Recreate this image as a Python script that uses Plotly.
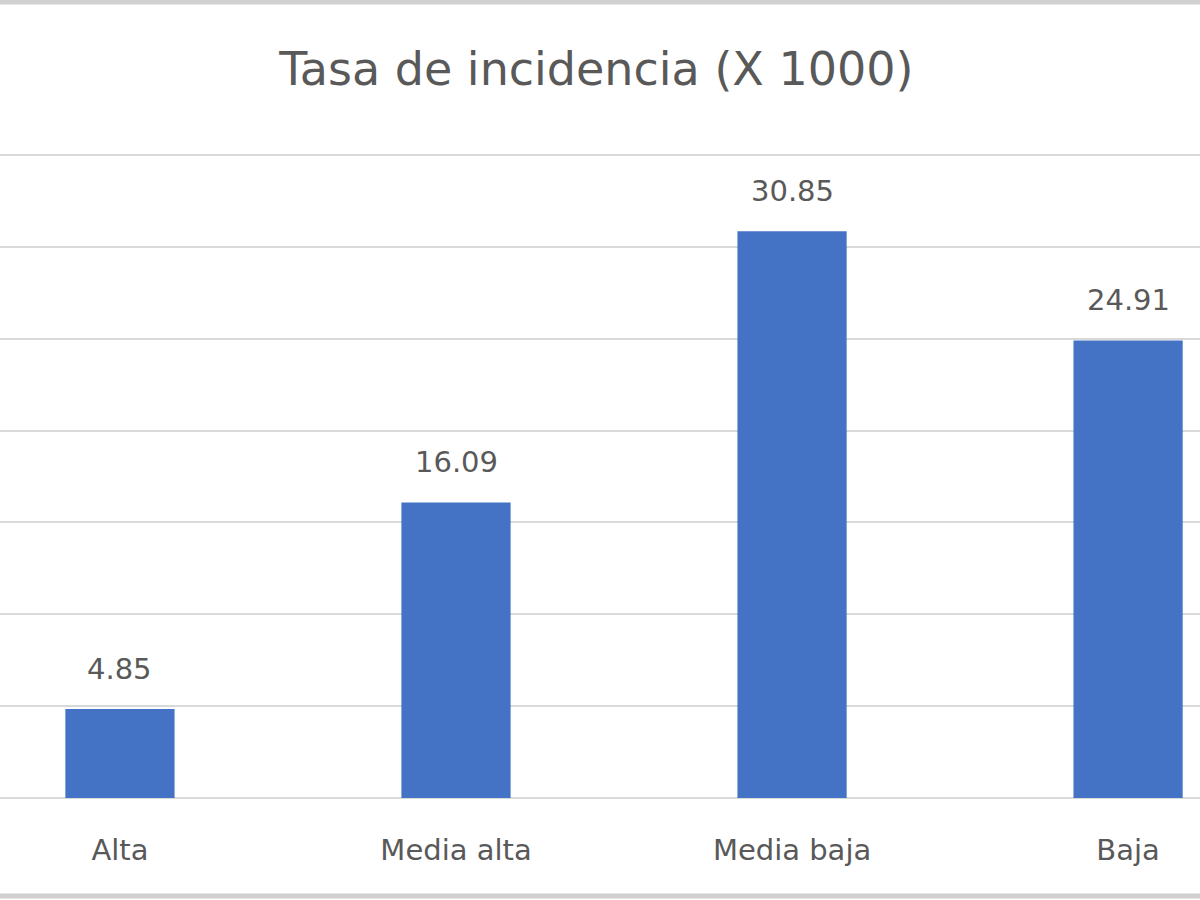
import plotly.graph_objects as go

categories = ["Alta", "Media alta", "Media baja", "Baja"]
values = [4.85, 16.09, 30.85, 24.91]
labels = ["4.85", "16.09", "30.85", "24.91"]
title_text = "Tasa de incidencia (X 1000)"

font_family = "DejaVu Sans"
text_color = "#595959"
xs = list(range(len(categories)))

fig = go.Figure(go.Bar(
    x=xs,
    y=values,
    marker=dict(color="#4472C4", line=dict(width=0)),
    width=0.325,
    hoverinfo="x+y",
))

for xi, v, lab in zip(xs, values, labels):
    fig.add_annotation(x=xi, y=v, text=lab, showarrow=False,
                       xanchor="center", yanchor="bottom", yshift=21,
                       font=dict(size=29, color=text_color, family=font_family))

fig.update_layout(
    width=1200, height=900,
    margin=dict(l=0, r=0, t=149, b=102),
    paper_bgcolor="white", plot_bgcolor="white",
    showlegend=False,
    title=dict(text=title_text, x=0.497, xanchor="center", y=0.924, yanchor="middle",
               font=dict(size=46, color=text_color, family=font_family)),
    xaxis=dict(
        range=[-0.357, 3.214],
        tickmode="array", tickvals=xs, ticktext=categories,
        tickfont=dict(size=29, color=text_color, family=font_family),
        showgrid=False, zeroline=False, showline=False, ticks="",
        ticklabelstandoff=32,
    ),
    yaxis=dict(
        range=[0, 35.33], dtick=5, showticklabels=False,
        showgrid=True, gridcolor="#D9D9D9", gridwidth=2,
        zeroline=True, zerolinecolor="#D9D9D9", zerolinewidth=2,
        showline=False, ticks="",
    ),
    shapes=[
        dict(type="line", xref="paper", yref="paper", x0=-0.01, x1=1.01,
             y0=1 + 147/649, y1=1 + 147/649, line=dict(color="#D0D0D0", width=5)),
        dict(type="line", xref="paper", yref="paper", x0=-0.01, x1=1.01,
             y0=-98/649, y1=-98/649, line=dict(color="#D0D0D0", width=5)),
    ],
)

fig.write_html("out.html", config={"displayModeBar": False},
               post_script="document.body.style.margin='0';")
